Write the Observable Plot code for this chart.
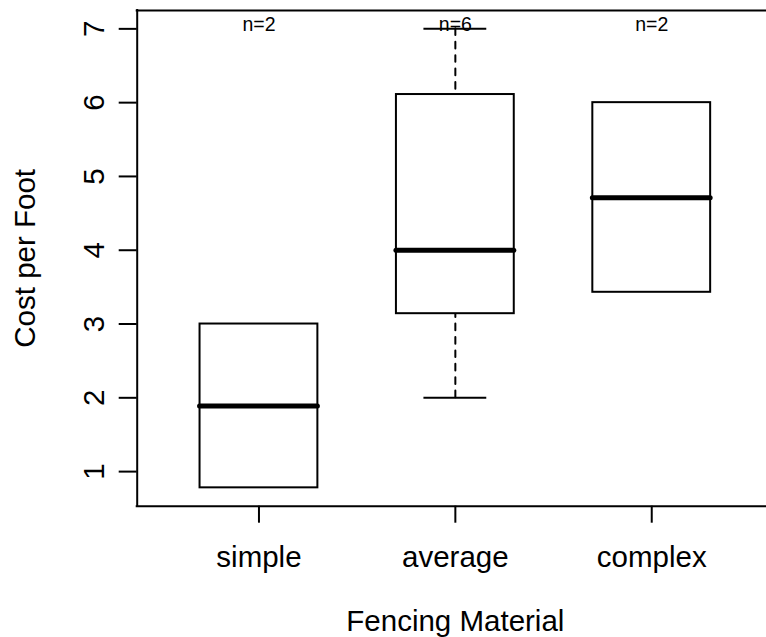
<!DOCTYPE html>
<html><head><meta charset="utf-8">
<script src="https://cdn.jsdelivr.net/npm/d3@7"></script>
<script src="https://cdn.jsdelivr.net/npm/@observablehq/plot@0.6"></script>
<style>
html,body{margin:0;padding:0;background:#fff;overflow:hidden;}
</style></head><body><div id="chart"></div>
<script>
const categories = ["simple", "average", "complex"];
const counts = [2, 6, 2];
const lowerWhisker = [null, 2.0, null];
const lowerHinge = [0.78, 3.14, 3.43];
const medians = [1.89, 4.0, 4.71];
const upperHinge = [3.0, 6.11, 6.0];
const upperWhisker = [null, 7.0, null];
const yTicks = [1, 2, 3, 4, 5, 6, 7];
const xLabel = "Fencing Material";
const yLabel = "Cost per Foot";

const boxes = categories.map((c, i) => ({
  pos: i + 1, name: c, n: counts[i],
  lo: lowerWhisker[i], q1: lowerHinge[i], med: medians[i], q3: upperHinge[i], hi: upperWhisker[i]
}));
const withWhiskers = boxes.filter(d => d.lo != null);

const allVals = boxes.flatMap(d => [d.lo, d.q1, d.q3, d.hi].filter(v => v != null));
const ymin = d3.min(allVals), ymax = d3.max(allVals);
const ypad = 0.04 * (ymax - ymin);
const xlo = 0.5, xhi = categories.length + 0.5;
const xpad = 0.04 * (xhi - xlo);
const boxHalf = 0.3, capHalf = 0.16;
const lw = 2;
const fs = 29.5;

const chart = Plot.plot({
  width: 766,
  height: 637,
  marginLeft: 136.7,
  marginRight: 0,
  marginTop: 10,
  marginBottom: 131.3,
  style: {fontFamily: "'Liberation Sans', Arial, Helvetica, sans-serif", fontSize: fs + "px", color: "black", background: "white"},
  x: {type: "linear", domain: [xlo - xpad, xhi + xpad], range: [136.7, 773], axis: null},
  y: {domain: [ymin - ypad, ymax + ypad], axis: null},
  marks: [
    // whiskers (drawn from whisker end toward hinge, as R does)
    Plot.ruleX(withWhiskers, {x: "pos", y1: "lo", y2: "q1", stroke: "black", strokeWidth: lw, strokeDasharray: "6.7,6.7", strokeLinecap: "round"}),
    Plot.ruleX(withWhiskers, {x: "pos", y1: "hi", y2: "q3", stroke: "black", strokeWidth: lw, strokeDasharray: "6.7,6.7", strokeLinecap: "round"}),
    Plot.ruleY(withWhiskers, {y: "lo", x1: d => d.pos - capHalf, x2: d => d.pos + capHalf, stroke: "black", strokeWidth: lw}),
    Plot.ruleY(withWhiskers, {y: "hi", x1: d => d.pos - capHalf, x2: d => d.pos + capHalf, stroke: "black", strokeWidth: lw}),
    // boxes
    Plot.rect(boxes, {x1: d => d.pos - boxHalf, x2: d => d.pos + boxHalf, y1: "q1", y2: "q3", fill: "white", stroke: "black", strokeWidth: lw}),
    // medians
    Plot.ruleY(boxes, {y: "med", x1: d => d.pos - boxHalf, x2: d => d.pos + boxHalf, stroke: "black", strokeWidth: 5, strokeLinecap: "round"}),
    // n labels
    Plot.text(boxes, {x: "pos", text: d => "n=" + d.n, frameAnchor: "top", dy: 20, lineAnchor: "bottom", fontSize: 19.5, fill: "black"}),
    // frame (left, top, bottom; right side lies beyond the picture)
    Plot.ruleY([ymin - ypad, ymax + ypad], {stroke: "black", strokeWidth: lw, strokeLinecap: "square"}),
    Plot.ruleX([xlo - xpad], {stroke: "black", strokeWidth: lw, strokeLinecap: "square"}),
    // axes
    Plot.axisX(boxes.map(d => d.pos), {anchor: "bottom", tickSize: 17, tickPadding: 44, lineAnchor: "bottom", tickFormat: p => categories[p - 1], fontSize: fs, strokeWidth: lw, label: null}),
    Plot.axisY(yTicks, {anchor: "left", tickSize: 18, tickPadding: 15, tickRotate: -90, textAnchor: "middle", lineAnchor: "bottom", tickFormat: d => String(d), fontSize: fs, strokeWidth: lw, label: null}),
    // axis titles
    Plot.text([yLabel], {frameAnchor: "left", rotate: -90, dx: -102.7, lineAnchor: "bottom", textAnchor: "middle", fontSize: fs, fill: "black"}),
    Plot.text([xLabel], {x: () => (xlo + xhi) / 2, frameAnchor: "bottom", dy: 125, lineAnchor: "bottom", fontSize: fs, fill: "black"})
  ]
});
document.getElementById("chart").appendChild(chart);
</script>
</body></html>
